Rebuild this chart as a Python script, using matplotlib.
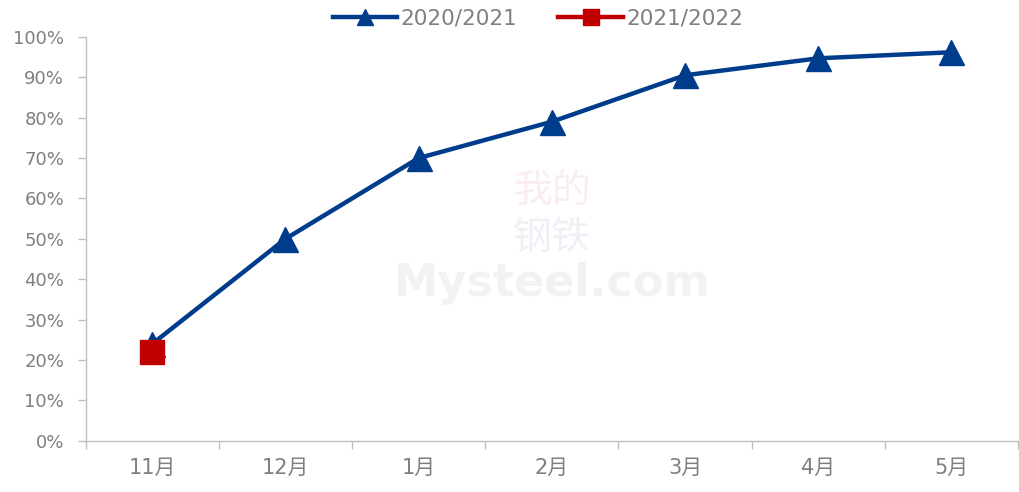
import matplotlib.pyplot as plt
from matplotlib.ticker import PercentFormatter

plt.rcParams['font.family'] = ['DejaVu Sans', 'Noto Sans CJK SC']

months = ['11月', '12月', '1月', '2月', '3月', '4月', '5月']
season_2021 = [0.24, 0.50, 0.70, 0.79, 0.905, 0.947, 0.962]
season_2122 = [0.22]

blue = '#003C8C'
red = '#C00000'
grey = '#7F7F7F'

fig = plt.figure(figsize=(10.2, 4.92), dpi=100)
ax = fig.add_axes([0.084, 0.104, 0.914, 0.821])

x = range(len(months))
ax.plot(x, season_2021, color=blue, lw=3.2, marker='^', ms=18,
        label='2020/2021', zorder=3)
ax.plot(range(len(season_2122)), season_2122, color=red, lw=3.2, marker='s',
        ms=17, label='2021/2022', zorder=4)

# faint watermark
ax.text(0.5, 0.62, '我的', transform=ax.transAxes, ha='center', va='center',
        fontsize=28, color='#C00000', alpha=0.07, family='Noto Sans CJK SC', zorder=0)
ax.text(0.5, 0.50, '钢铁', transform=ax.transAxes, ha='center', va='center',
        fontsize=28, color='#003C8C', alpha=0.07, family='Noto Sans CJK SC', zorder=0)
ax.text(0.5, 0.39, 'Mysteel.com', transform=ax.transAxes, ha='center', va='center',
        fontsize=32, color='#000000', alpha=0.05, fontweight='bold', zorder=0)

ax.set_xlim(-0.5, len(months) - 0.5)
ax.set_ylim(0, 1)
ax.set_yticks([i / 10 for i in range(11)])
ax.yaxis.set_major_formatter(PercentFormatter(1.0, decimals=0))
ax.set_xticks(x)
ax.set_xticklabels(months)
ax.set_xticks([i - 0.5 for i in range(len(months) + 1)], minor=True)
ax.tick_params(axis='x', which='major', length=0, pad=12, labelsize=15, labelcolor=grey)
ax.tick_params(axis='x', which='minor', length=6, color='#BFBFBF', width=1)
ax.tick_params(axis='y', length=6, color='#BFBFBF', width=1, labelsize=13,
               labelcolor=grey, pad=9.5)

for side in ['top', 'right']:
    ax.spines[side].set_visible(False)
for side in ['left', 'bottom']:
    ax.spines[side].set_color('#BFBFBF')
    ax.spines[side].set_linewidth(1)

leg = ax.legend(loc='center', bbox_to_anchor=(0.485, 1.045), ncol=2, frameon=False,
                fontsize=15.5, handlelength=3.0, columnspacing=1.9, markerscale=0.65,
                handletextpad=0.15)
for t in leg.get_texts():
    t.set_color(grey)

fig.savefig('out.png', dpi=100)
